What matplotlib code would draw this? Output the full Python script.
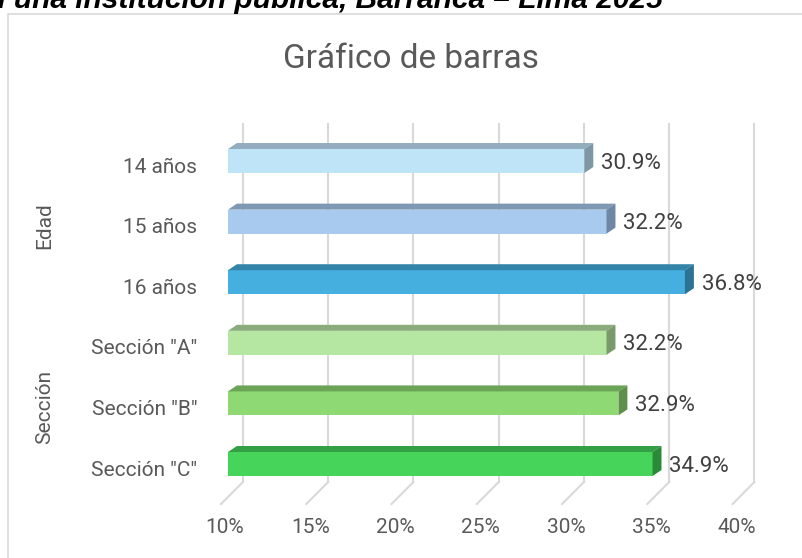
import matplotlib.pyplot as plt
from matplotlib.patches import Polygon, Rectangle
import matplotlib.transforms as mtransforms

categorias = ["14 años", "15 años", "16 años", 'Sección "A"', 'Sección "B"', 'Sección "C"']
porcentajes = [30.9, 32.2, 36.8, 32.2, 32.9, 34.9]
grupos = ["Edad", "Sección"]
grupo_idx = [[0, 1, 2], [3, 4, 5]]
ticks = [10, 15, 20, 25, 30, 35, 40]

color_frente = ["#C0E4F7", "#A7CAEE", "#45AFE0", "#B5E6A2", "#8ED973", "#47D45A"]
color_tapa = ["#93ADBE", "#7F99B5", "#3384A8", "#8AAB7B", "#6CA457", "#33A043"]
color_lado = ["#7E97A6", "#6E88A3", "#2B7294", "#7A9A6B", "#5E8F4B", "#2A8A38"]

W, H = 802, 558
plt.rcParams["font.family"] = ["Roboto", "DejaVu Sans"]

fig = plt.figure(figsize=(W / 100, H / 100), dpi=100)
fig.patches.append(Rectangle((8 / W, -0.2), 1.2, 1.2 - 14 / H, transform=fig.transFigure,
                             fill=False, edgecolor="#D9D9D9", lw=1.2))

# plano frontal de las barras: 10% en x=225px, 40% en x=739.5px; eje de 124px a 482px
ax = fig.add_axes([225 / W, (H - 482) / H, 514.5 / W, 358 / H])
ax.set_xlim(10, 40)
pos = list(range(len(categorias)))
ax.set_ylim(5.297, -0.611)
for s in ax.spines.values():
    s.set_visible(False)

px_x = 514.5 / 30      # px por punto porcentual
px_y = 358 / (5.297 + 0.611)  # px por categoría

# pared del fondo y piso
back_dx = 15 / px_x
y0 = 5.297
for t in ticks:
    ax.plot([t + back_dx, t + back_dx], [y0, -0.611], color="#D9D9D9", lw=1.5,
            zorder=0, clip_on=False)
    ax.plot([t + back_dx, t - 7 / px_x], [y0, y0 + 22 / px_y], color="#D9D9D9", lw=1.5,
            zorder=0, clip_on=False)

# barras con efecto 3D
h = 24 / px_y
dx, dy = 9 / px_x, 6 / px_y
ax.barh(pos, [v - 10 for v in porcentajes], left=10, height=h, color=color_frente, zorder=2)
for p, v, ct, cl in zip(pos, porcentajes, color_tapa, color_lado):
    arriba, abajo = p - h / 2, p + h / 2
    ax.add_patch(Polygon([(10, arriba), (v, arriba), (v + dx, arriba - dy), (10 + dx, arriba - dy)],
                         closed=True, facecolor=ct, edgecolor="none", zorder=3))
    ax.add_patch(Polygon([(v, arriba), (v + dx, arriba - dy), (v + dx, abajo - dy), (v, abajo)],
                         closed=True, facecolor=cl, edgecolor="none", zorder=3))
    ax.text(v + dx + 8 / px_x, p + 2 / px_y, f"{v:.1f}%", ha="left", va="center",
            fontsize=16, color="#404040", zorder=4)

ax.set_yticks([p + 4 / px_y for p in pos])
ax.set_yticklabels(categorias)
ax.set_xticks([t - 3 / px_x for t in ticks])
ax.set_xticklabels([f"{t}%" for t in ticks])
ax.tick_params(axis="y", length=0, pad=20, labelsize=15, labelcolor="#595959")
ax.tick_params(axis="x", length=0, pad=26, labelsize=15, labelcolor="#595959")

tr = mtransforms.blended_transform_factory(fig.transFigure, ax.transData)
for g, idx in zip(grupos, grupo_idx):
    yc = sum(idx) / len(idx) + 4 / px_y
    ax.text(45 / W, yc, g, transform=tr, rotation=90, ha="center", va="center",
            fontsize=15, color="#595959")

fig.text(411 / W, 1 - 68 / H, "Gráfico de barras", ha="center", va="baseline",
         fontsize=24, color="#595959")
fig.text(663 / W, 1 - 7.5 / H,
         "Estudiantes de secundaria en una institución pública, Barranca – Lima 2025",
         ha="right", va="baseline", fontsize=21.5, fontweight="bold", fontstyle="italic",
         family=["Liberation Sans", "DejaVu Sans"], color="black")

fig.savefig("out.png", dpi=100)
